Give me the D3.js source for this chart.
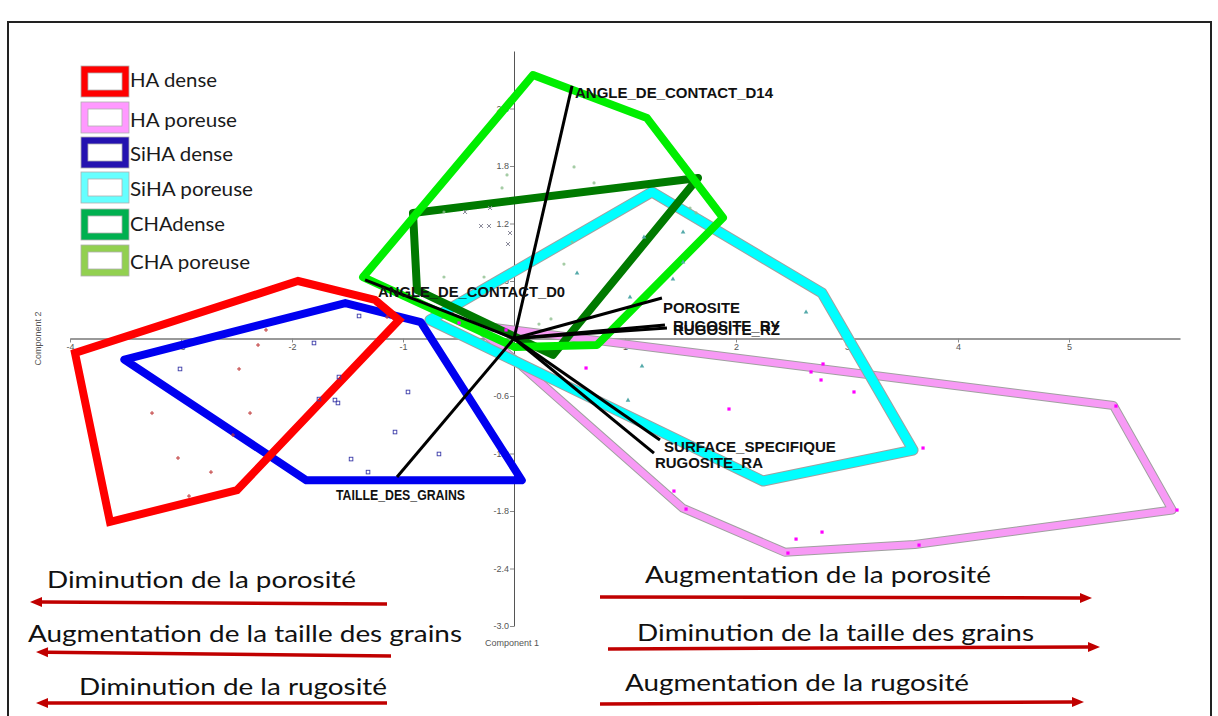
<!DOCTYPE html>
<html><head><meta charset="utf-8">
<script src="https://cdn.jsdelivr.net/npm/d3@7"></script>
<style>body{margin:0;background:#fff}</style>
</head><body><svg id="chart" width="1218" height="716"></svg>
<script>
// ---------- DATA ----------
const groups = ["HA dense","HA poreuse","SiHA dense","SiHA poreuse","CHAdense","CHA poreuse"];

// convex hulls (Component 1, Component 2)
const hullHADense    = [[-1.946,0.600],[-1.252,0.402],[-1.036,0.193],[-2.495,-1.582],[-3.64,-1.914],[-3.955,-0.151]];
const hullHAPoreuse  = [[-0.35,0.14],[5.40,-0.70],[5.93,-1.79],[3.61,-2.15],[2.44,-2.23],[1.52,-1.77]];
const hullSiHADense  = [[-3.51,-0.22],[-1.52,0.37],[-0.84,0.17],[0.07,-1.48],[-1.87,-1.48]];
const hullSiHAPoreuse= [[-0.757,0.193],[1.243,1.529],[2.775,0.475],[3.595,-1.164],[2.243,-1.487]];
const hullCHADense   = [[-0.91,1.31],[1.658,1.675],[0.351,-0.172],[-0.874,0.506]];
const hullCHAPoreuse = [[-1.36,0.64],[0.171,2.75],[1.198,2.30],[1.883,1.26],[0.748,-0.068],[0.009,-0.089]];

// scores
const ptsHADense = [[-2.234,0.089],[-2.306,-0.068],[-2.477,-0.318],[-3.261,-0.778],[-2.378,-0.778],[-2.532,-1.007],[-3.027,-1.247],[-2.730,-1.394],[-2.928,-1.644],[-1.144,0.224]];
const ptsSiHADense = [[-1.396,0.235],[-1.802,-0.047],[-3.009,-0.318],[-1.577,-0.402],[-1.757,-0.632],[-1.613,-0.642],[-1.586,-0.673],[-0.955,-0.558],[-1.072,-0.976],[-0.676,-1.205],[-1.468,-1.258],[-1.315,-1.394]];
const ptsHAPoreuse = [[-0.495,0.162],[-0.072,0.089],[0.649,-0.308],[2.784,-0.266],[2.676,-0.349],[2.766,-0.433],[3.063,-0.558],[1.937,-0.736],[3.685,-1.143],[5.423,-0.705],[5.973,-1.79],[1.441,-1.592],[1.550,-1.780],[2.541,-2.093],[2.775,-2.020],[2.468,-2.239],[3.649,-2.156]];
const ptsSiHAPoreuse = [[1.523,1.112],[1.171,1.060],[0.568,0.684],[1.045,0.433],[1.432,0.621],[1.523,0.799],[2.631,0.277],[1.153,-0.287],[1.027,-0.642]];
const ptsCHADense = [[-0.441,1.320],[-0.216,1.362],[-0.297,1.174],[-0.225,1.174],[-0.036,1.101],[-0.054,0.986]];
const ptsCHAPoreuse = [[0.541,1.790],[0.721,1.623],[-0.063,1.707],[-0.108,1.571],[-0.631,1.320],[-0.631,0.642],[-0.270,0.642],[0.523,1.007],[0.450,0.777],[0.333,0.204],[0.225,0.151],[1.586,1.362],[1.640,1.310]];

// loadings
const loadingNames = ["ANGLE_DE_CONTACT_D14","ANGLE_DE_CONTACT_D0","POROSITE","RUGOSITE_RY","RUGOSITE_RZ","SURFACE_SPECIFIQUE","RUGOSITE_RA","TAILLE_DES_GRAINS"];
const loadingX = [0.523,-1.342,1.333,1.360,1.378,1.315,1.261,-1.054];
const loadingY = [2.636,0.611,0.423,0.141,0.110,-1.060,-1.196,-1.446];

// axis ticks
const xTickValues = [-4,-3,-2,-1,1,2,3,4,5];
const yTickValues = [2.4,1.8,1.2,0.6,-0.6,-1.2,-1.8,-2.4,-3.0];
const xTitle = "Component 1", yTitle = "Component 2";

// annotations
const leftNotes  = ["Diminution de la porosité","Augmentation de la taille des grains","Diminution de la rugosité"];
const rightNotes = ["Augmentation de la porosité","Diminution de la taille des grains","Augmentation de la rugosité"];

// ---------- LAYOUT / STYLE ----------
const svg = d3.select("#chart");
svg.append("rect").attr("width",1218).attr("height",716).attr("fill","#fff");
svg.append("rect").attr("x",8).attr("y",22).attr("width",1203).attr("height",710)
  .attr("fill","none").attr("stroke","#222").attr("stroke-width",2);

const x = d3.scaleLinear().domain([-4,6]).range([70,1180]);
const y = d3.scaleLinear().domain([-3,3]).range([626,51]);

// axes
const axisColor = "#8a8a8a";
const gx = svg.append("g").attr("transform",`translate(0,${y(0)})`)
  .call(d3.axisBottom(x).tickValues(xTickValues).tickSize(4).tickSizeOuter(0).tickFormat(d=>String(d)));
gx.select(".domain").attr("stroke","#999").attr("stroke-width",2);
gx.selectAll(".tick line").attr("stroke",axisColor);
gx.selectAll(".tick text").attr("fill","#555").attr("font-family","Liberation Sans, Arial").attr("font-size",9).attr("dy","0.55em");

const gy = svg.append("g").attr("transform",`translate(${x(0)},0)`)
  .call(d3.axisLeft(y).tickValues(yTickValues).tickSize(4).tickSizeOuter(0).tickFormat(d=>d.toFixed(1)));
gy.select(".domain").attr("stroke","#555").attr("stroke-width",1);
gy.selectAll(".tick line").attr("stroke",axisColor);
gy.selectAll(".tick text").attr("fill","#555").attr("font-family","Liberation Sans, Arial").attr("font-size",9).attr("x",-5);

svg.append("text").attr("transform",`translate(41,${y(0)}) rotate(-90)`).attr("text-anchor","middle")
  .attr("font-family","Liberation Sans, Arial").attr("font-size",9).attr("fill","#555").text(yTitle);
svg.append("text").attr("x",x(0)-2).attr("y",646).attr("text-anchor","middle")
  .attr("font-family","Liberation Sans, Arial").attr("font-size",9).attr("fill","#555").text(xTitle);

// hulls
const line = d3.line().x(d=>x(d[0])).y(d=>y(d[1])).curve(d3.curveLinearClosed);
function hull(data, color, w, outline, join){
  if(outline){
    svg.append("path").attr("d",line(data)).attr("fill","none").attr("stroke","#a0a0a0")
      .attr("stroke-width",w+2).attr("stroke-linejoin",join);
  }
  svg.append("path").attr("d",line(data)).attr("fill","none").attr("stroke",color)
    .attr("stroke-width",w).attr("stroke-linejoin",join);
}
hull(hullHAPoreuse,"#f79af5",7,true,"round");
hull(hullSiHAPoreuse,"#00ffff",9,true,"round");
hull(hullSiHADense,"#0000f0",8,false,"round");
hull(hullHADense,"#ff0000",8,false,"miter");
hull(hullCHADense,"#007a00",8,false,"round");
hull(hullCHAPoreuse,"#00ee00",8,false,"round");

// points
function pts(data, type, color){
  const g = svg.append("g");
  data.forEach(d=>{
    const px=x(d[0]), py=y(d[1]);
    if(type==="plus"){
      g.append("path").attr("d",`M${px-2},${py}H${px+2}M${px},${py-2}V${py+2}`).attr("stroke",color).attr("stroke-width",1);
    } else if(type==="cross"){
      g.append("path").attr("d",`M${px-2},${py-2}L${px+2},${py+2}M${px-2},${py+2}L${px+2},${py-2}`).attr("stroke",color).attr("stroke-width",1);
    } else if(type==="square"){
      g.append("rect").attr("x",px-1.8).attr("y",py-1.8).attr("width",3.6).attr("height",3.6).attr("fill","none").attr("stroke",color).attr("stroke-width",0.9);
    } else if(type==="dot"){
      g.append("rect").attr("x",px-1.6).attr("y",py-1.6).attr("width",3.2).attr("height",3.2).attr("fill",color);
    } else if(type==="tri"){
      g.append("path").attr("d",`M${px},${py-2.5}L${px+2.3},${py+1.6}L${px-2.3},${py+1.6}Z`).attr("fill",color);
    } else if(type==="circ"){
      g.append("circle").attr("cx",px).attr("cy",py).attr("r",1.6).attr("fill",color).attr("opacity",0.8);
    }
  });
}
pts(ptsHADense,"plus","#c03a3a");
pts(ptsSiHADense,"square","#3a3aa8");
pts(ptsHAPoreuse,"dot","#ff00ff");
pts(ptsSiHAPoreuse,"tri","#55aaaa");
pts(ptsCHADense,"cross","#8a8a9a");
pts(ptsCHAPoreuse,"circ","#8fbf8f");

// loadings
const labelOffsets = [[3,12],[13,17],[1,15],[8,6],[6,7],[4,12],[1,15],[-61,23]];
const labelWidths  = [198,187,77,107,107,172,108,129];
loadingNames.forEach((n,i)=>{
  svg.append("line").attr("x1",x(0)).attr("y1",y(0)).attr("x2",x(loadingX[i])).attr("y2",y(loadingY[i]))
    .attr("stroke","#000").attr("stroke-width",3);
});
loadingNames.forEach((n,i)=>{
  svg.append("text").attr("x",x(loadingX[i])+labelOffsets[i][0]).attr("y",y(loadingY[i])+labelOffsets[i][1])
    .attr("font-family","Liberation Sans, Arial").attr("font-weight","bold").attr("font-size",15)
    .attr("textLength",labelWidths[i]).attr("lengthAdjust","spacingAndGlyphs")
    .attr("fill","#111").text(n);
});

// legend
const legendFill = ["#ff0000","#ff99ff","#2412b0","#66ffff","#00b050","#92d050"];
const legendTop = [66,102,137,172,209,245];
const legendBase = [87,127,161,196,231,269];
const legendW = [87,107,103,123,95,120];
groups.forEach((gname,i)=>{
  svg.append("rect").attr("x",81).attr("y",legendTop[i]).attr("width",48).attr("height",31)
    .attr("fill",legendFill[i]).attr("stroke","#b0b0b0").attr("stroke-width",0.8);
  svg.append("rect").attr("x",88).attr("y",legendTop[i]+7).attr("width",34).attr("height",17)
    .attr("fill","#fff").attr("stroke","#b0b0b0").attr("stroke-width",0.8);
  svg.append("text").attr("x",130).attr("y",legendBase[i]).attr("font-family","Lato, Open Sans")
    .attr("font-size",19.5).attr("fill","#1a1a1a").attr("textLength",legendW[i]).attr("lengthAdjust","spacingAndGlyphs").text(gname);
});

// bottom annotations with arrows
const arrowColor = "#c00000";
function arrow(x1,y1,x2,y2){
  const ang = Math.atan2(y2-y1,x2-x1), L=12, W=5;
  const bx = x2 - L*Math.cos(ang), by = y2 - L*Math.sin(ang);
  svg.append("line").attr("x1",x1).attr("y1",y1).attr("x2",bx).attr("y2",by)
    .attr("stroke",arrowColor).attr("stroke-width",3.5);
  svg.append("path").attr("d",`M${x2},${y2}L${bx - W*Math.sin(ang)},${by + W*Math.cos(ang)}L${bx + W*Math.sin(ang)},${by - W*Math.cos(ang)}Z`)
    .attr("fill",arrowColor);
}
const noteFont = "Lato, Open Sans";
const leftTextX = [47,28,79], leftTextW = [309,434,308], leftBase = [588,642,695];
const rightTextX = [645,637,625], rightTextW = [346,397,344], rightBase = [583,641,691];
leftNotes.forEach((t,i)=>{
  svg.append("text").attr("x",leftTextX[i]).attr("y",leftBase[i]).attr("font-family",noteFont).attr("font-size",23)
    .attr("fill","#111").attr("textLength",leftTextW[i]).attr("lengthAdjust","spacingAndGlyphs").text(t);
});
rightNotes.forEach((t,i)=>{
  svg.append("text").attr("x",rightTextX[i]).attr("y",rightBase[i]).attr("font-family",noteFont).attr("font-size",23)
    .attr("fill","#111").attr("textLength",rightTextW[i]).attr("lengthAdjust","spacingAndGlyphs").text(t);
});
arrow(387,604,30,602);
arrow(391,656,36,652);
arrow(387,703,36,703);
arrow(600,597,1092,598);
arrow(608,649,1100,647);
arrow(600,704,1084,702);
</script></body></html>
